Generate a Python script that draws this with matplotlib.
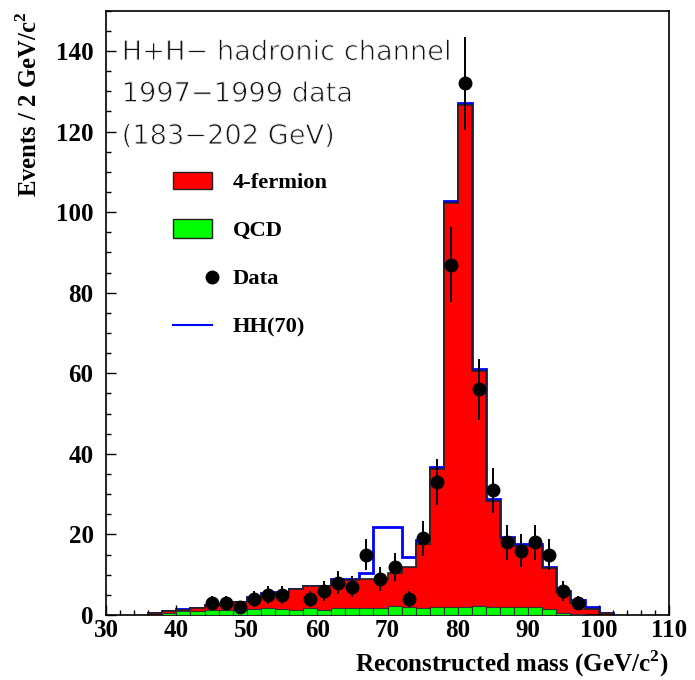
import numpy as np
import matplotlib
matplotlib.use("Agg")
from matplotlib import pyplot as plt
from matplotlib import patheffects as pe
from matplotlib.patches import Rectangle
from matplotlib.lines import Line2D
from matplotlib.ticker import MultipleLocator

plt.rcParams['font.family'] = ['Liberation Serif', 'DejaVu Serif']
plt.rcParams['mathtext.fontset'] = 'custom'
plt.rcParams['mathtext.rm'] = 'Liberation Serif'
plt.rcParams['mathtext.bf'] = 'Liberation Serif:bold'

# 2 GeV bins from 36 to 102 GeV
edges = np.arange(36, 104, 2)
centers = edges[:-1] + 1

# QCD background per bin
qcd = [0, 0.5, 0.9, 0.9, 1.2, 1.2, 1.2, 1.4, 1.7, 1.5, 1.3, 1.8, 1.2, 1.8, 1.7, 1.7, 1.7,
       2.3, 2.0, 1.7, 2.0, 2.1, 2.1, 2.3, 2.1, 1.9, 2.1, 2.0, 1.4, 0.6, 0.3, 0, 0]
# 4-fermion background per bin
fourf = [0.4, 0.4, 0.4, 0.8, 1.2, 1.4, 2.0, 2.9, 3.6, 4.0, 5.1, 5.3, 5.9, 7.0, 7.1, 7.2, 7.3,
         8.2, 10.0, 15.8, 34.3, 100.2, 124.4, 58.2, 26.2, 17.1, 15.0, 15.2, 10.2, 5.0, 2.8, 1.6, 0.5]
# HH(70) signal per bin (stacked on top)
hh = [0, 0, 0.1, 0.1, 0.1, 0.1, 0.1, 0.1, 0.1, 0.1, 0.1, 0.1, 0.1, 0.2, 0.2, 1.6, 12.9,
      11.4, 2.3, 1.0, 0.4, 0.4, 0.6, 0.5, 0.4, 0.4, 0.4, 0.3, 0.4, 0.4, 0.5, 0.5, 0]

# data
data_x = [45, 47, 49, 51, 53, 55, 59, 61, 63, 65, 67, 69, 71, 73, 75, 77, 79, 81, 83,
          85, 87, 89, 91, 93, 95, 97]
data_y = [3, 3, 2, 4, 5, 5, 4, 6, 8, 7, 15, 9, 12, 4, 19, 33, 87, 132, 56,
          31, 18, 16, 18, 15, 6, 3]

qcd = np.array(qcd)
bg = qcd + np.array(fourf)
tot = bg + np.array(hh)

fig = plt.figure(figsize=(6.95, 6.8), dpi=100)
ax = fig.add_axes([106/695, 1-615/680, 563/695, 604.3/680])

ax.stairs(tot, edges, color='#0000ff', lw=2.0, zorder=1)
ax.stairs(bg, edges, fill=True, facecolor='#ff0000', edgecolor='#222222', lw=1.2, zorder=2)
ax.bar(centers, qcd, width=2, color='#00ff00', edgecolor='#333333', lw=0.8, zorder=3)
ax.errorbar(data_x, data_y, yerr=np.sqrt(data_y), fmt='o', color='k', ms=9, lw=1.4,
            capsize=0, zorder=5)

ax.set_xlim(30, 110)
ax.set_ylim(0, 150)
ax.xaxis.set_major_locator(MultipleLocator(10))
ax.xaxis.set_minor_locator(MultipleLocator(2))
ax.yaxis.set_major_locator(MultipleLocator(20))
ax.yaxis.set_minor_locator(MultipleLocator(5))
ax.tick_params(which='both', direction='in', top=False, right=False, width=1)
ax.tick_params(axis='x', which='major', length=7.5, pad=3, labelsize=18)
ax.tick_params(axis='x', which='minor', length=3.8)
ax.tick_params(axis='y', which='major', length=7, pad=9, labelsize=18)
ax.tick_params(axis='y', which='minor', length=3.8)
for lab in ax.get_xticklabels() + ax.get_yticklabels():
    lab.set_fontweight('bold')
for sp in ax.spines.values():
    sp.set_linewidth(1.2)

fig.text(668/695, 1-672/680, r'Reconstructed mass (GeV/c$^{\mathbf{2}}$)', ha='right',
         va='baseline', fontsize=18, fontweight='bold')
fig.text(29/695, 1-12/680, r'Events / 2 GeV/c$^{\mathbf{2}}$', ha='center', va='top',
         rotation=90, fontsize=17.8, fontweight='bold')

# header text (thin look: erase glyph edges with a white stroke)
thin = [pe.Normal(), pe.Stroke(linewidth=0.7, foreground='white')]
for txt, fy in [('H+H\u2212 hadronic channel', 0.9184),
                ('1997\u22121999 data', 0.8494),
                ('(183\u2212202 GeV)', 0.7794)]:
    ax.text(0.0279, fy, txt, transform=ax.transAxes, fontsize=19.6, family='DejaVu Sans',
            color='#111111', va='baseline', ha='left', path_effects=thin)

# legend
tr = ax.transAxes
ax.add_patch(Rectangle((0.1195, 0.7044), 0.0682, 0.0292, transform=tr, facecolor='#ff0000',
                       edgecolor='#222222', lw=1))
ax.add_patch(Rectangle((0.1195, 0.6244), 0.0682, 0.0304, transform=tr, facecolor='#00ff00',
                       edgecolor='#222222', lw=1))
ax.plot([0.1877], [0.5598], 'o', color='k', ms=9, transform=tr)
ax.add_line(Line2D([0.1195, 0.1877], [0.4799, 0.4799], color='#0000ff', lw=1.5, transform=tr))
for txt, fy in [('4-fermion', 0.7061), ('QCD', 0.6277), ('Data', 0.5472), ('HH(70)', 0.4672)]:
    ax.text(0.225, fy, txt, transform=tr, fontsize=16.2, fontweight='bold', va='baseline')

fig.savefig('out.png', dpi=100)
